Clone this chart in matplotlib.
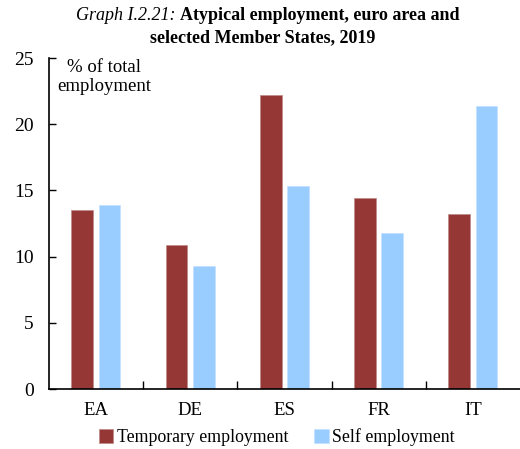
import matplotlib.pyplot as plt
import numpy as np

countries = ["EA", "DE", "ES", "FR", "IT"]
temporary = [13.5, 10.9, 22.2, 14.4, 13.2]
self_emp = [13.9, 9.3, 15.3, 11.8, 21.4]

plt.rcParams['font.family'] = ['Liberation Serif', 'DejaVu Serif']

fig = plt.figure(figsize=(5.2, 4.49), dpi=100)
ax = fig.add_axes([0.094, 0.1336, 0.906, 0.7372])

x = np.arange(len(countries))
w = 0.23
off = 0.145
ax.bar(x - off, temporary, w, color='#953735', edgecolor='#c08a89', linewidth=0.5,
       label='Temporary employment')
ax.bar(x + off, self_emp, w, color='#99ccff', edgecolor='#c4e0ff', linewidth=0.5,
       label='Self employment')

ax.set_xlim(-0.5, 4.5)
ax.set_ylim(0, 25)
ax.set_yticks([0, 5, 10, 15, 20, 25])
ax.tick_params(axis='y', direction='in', length=5, width=1, labelsize=14, pad=11)

ax.set_xticks(x)
ax.set_xticklabels(countries)
ax.tick_params(axis='x', length=0, labelsize=13.5, pad=9)
ax.set_xticks(np.arange(0.5, 4.5, 1), minor=True)
ax.tick_params(axis='x', which='minor', direction='in', length=6, width=1)

for s in ['top', 'right']:
    ax.spines[s].set_visible(False)
ax.spines['left'].set_linewidth(1.2)
ax.spines['bottom'].set_linewidth(1.2)

ax.text(0.118, 0.996, "% of total\nemployment", transform=ax.transAxes,
        ha='center', va='top', fontsize=13.5, linespacing=1.12)

fig.text(176 / 520, 1 - 16 / 449, "Graph I.2.21:", style='italic',
         ha='right', va='center', fontsize=13)
fig.text(180 / 520, 1 - 16 / 449, "Atypical employment, euro area and",
         weight='bold', ha='left', va='center', fontsize=13)
fig.text(263 / 520, 1 - 38 / 449, "selected Member States, 2019",
         weight='bold', ha='center', va='center', fontsize=13)

fig.legend(loc='center', bbox_to_anchor=(277 / 520, 1 - 437 / 449), ncol=2,
           frameon=False, fontsize=12.8, handlelength=0.8, handleheight=0.8,
           handletextpad=0.2, columnspacing=1.45, borderpad=0)

fig.savefig('out.png', dpi=100)
